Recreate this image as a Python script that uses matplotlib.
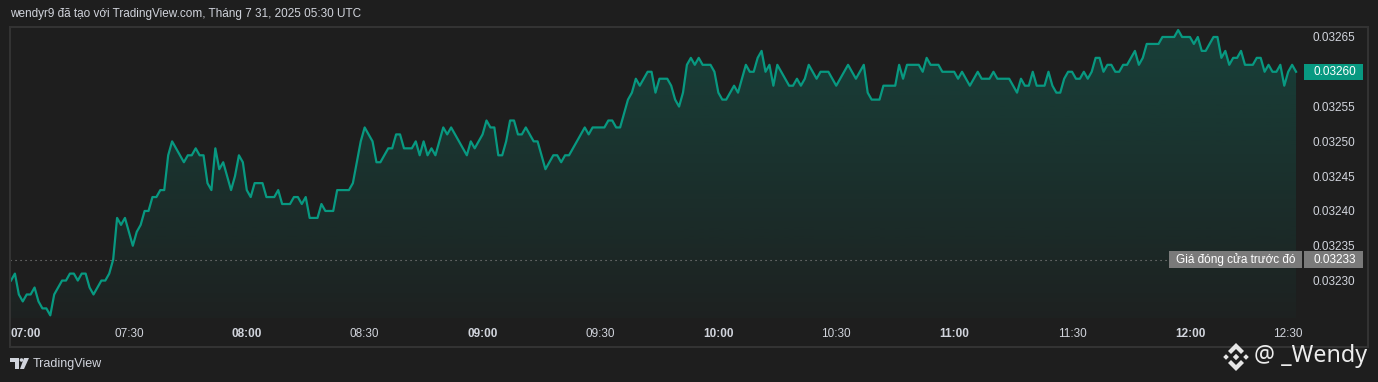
import matplotlib
matplotlib.use("Agg")
import matplotlib.pyplot as plt
import numpy as np
from matplotlib.patches import Rectangle, Polygon

W, H = 1378, 382
BG = "#1e1e1e"
GREEN = "#089981"
TEXT = "#d1d4dc"
FONT = ["Liberation Sans", "DejaVu Sans"]

# 1-minute closes, in units of 0.00001
close_0700 = [3230, 3231, 3228, 3227, 3228, 3228, 3229, 3227, 3226, 3226,
              3225, 3228, 3229, 3230, 3230, 3231, 3231, 3230, 3231, 3231,
              3229, 3228, 3229, 3230, 3230, 3231, 3233, 3239, 3238, 3239,
              3237, 3235, 3237, 3238, 3240, 3240, 3242, 3242, 3243, 3243,
              3248, 3250, 3249, 3248, 3247, 3248, 3248, 3249, 3248, 3248,
              3244, 3243, 3249, 3246, 3247, 3245, 3243, 3245, 3248, 3247,
              3243, 3242, 3244, 3244, 3244, 3242, 3242, 3242, 3243, 3241,
              3241, 3241, 3242, 3242, 3241, 3242, 3239, 3239, 3239, 3241,
              3240, 3240, 3240, 3243, 3243, 3243, 3243]
close_0827 = [3244, 3247, 3250, 3252, 3251, 3250, 3247, 3247, 3248, 3249,
              3249, 3251, 3251, 3249, 3249, 3249, 3250, 3248, 3250, 3248,
              3249, 3248, 3250, 3252, 3251, 3252, 3251, 3250, 3249, 3248,
              3250, 3249, 3250, 3251, 3253, 3252, 3252, 3248, 3248, 3250,
              3253, 3253, 3251, 3251, 3252, 3251, 3250, 3250, 3248, 3246,
              3247, 3248, 3248, 3247, 3248, 3248, 3249, 3250, 3251, 3252,
              3251, 3252, 3252, 3252, 3252, 3253, 3253, 3252, 3252, 3254,
              3256, 3257, 3259, 3258, 3259]
close_0942 = [3260, 3260, 3257, 3259, 3259, 3259, 3258, 3256, 3255, 3257,
              3261, 3262, 3261, 3262, 3261, 3261, 3261, 3260, 3257, 3256,
              3256, 3257, 3258, 3257, 3259, 3261, 3260, 3260, 3262, 3263,
              3260, 3261, 3258, 3261, 3260, 3259, 3258, 3258, 3259, 3258,
              3259, 3261, 3260, 3259, 3260, 3260, 3260, 3259, 3258, 3259,
              3260, 3261, 3260, 3259, 3260, 3261, 3257, 3256, 3256, 3256,
              3258, 3258, 3258, 3258, 3261, 3259, 3261, 3261, 3261, 3261]
close_1052 = [3260, 3262, 3261, 3261, 3261, 3260, 3260, 3260, 3260, 3259,
              3260, 3259, 3258, 3259, 3260, 3259, 3259, 3259, 3260, 3259,
              3259, 3259, 3259, 3258, 3257, 3259, 3258, 3258, 3260, 3258,
              3258, 3258, 3260, 3258, 3257, 3257, 3259, 3260, 3260, 3259,
              3259, 3260, 3259, 3260, 3262, 3262, 3260, 3261, 3261, 3260,
              3260, 3261, 3261, 3262, 3263, 3261, 3262, 3264, 3264, 3264,
              3264, 3265, 3265, 3265, 3265, 3266, 3265, 3265, 3265, 3264,
              3265, 3263, 3263, 3264, 3265, 3265, 3262, 3263, 3261, 3262,
              3262, 3263, 3261, 3261, 3261, 3262, 3262, 3260, 3261, 3260,
              3260, 3261, 3258, 3260, 3261, 3260]

price_ticks = [3230, 3235, 3240, 3245, 3250, 3255, 3260, 3265]
time_labels = ["07:00", "07:30", "08:00", "08:30", "09:00", "09:30",
               "10:00", "10:30", "11:00", "11:30", "12:00", "12:30"]
prev_close = 3233
SCALE = 1e-5

close = np.array(close_0700 + close_0827 + close_0942 + close_1052) * SCALE
bars = np.arange(len(close))
last = close[-1]

fig = plt.figure(figsize=(W / 100, H / 100), dpi=100, facecolor=BG)

# main price pane (pixel box 10..1299 x 28..318)
ax = fig.add_axes([10 / W, (H - 318) / H, 1289 / W, 290 / H])
ax.set_facecolor(BG)
ax.set_xlim(-0.25, 327.75)
ax.set_ylim(3224.62 * SCALE, 3266.29 * SCALE)
for s in ax.spines.values():
    s.set_visible(False)

# gradient area under the line
poly = ax.fill_between(bars, close, ax.get_ylim()[0], color="none", lw=0)
grad = np.zeros((256, 1, 4))
grad[:, 0, 0:3] = matplotlib.colors.to_rgb(GREEN)
grad[:, 0, 3] = np.linspace(0.28, 0.03, 256)
img = ax.imshow(grad, extent=[bars[0], bars[-1], ax.get_ylim()[0], close.max()],
                aspect="auto", origin="upper", zorder=1)
img.set_clip_path(poly.get_paths()[0], transform=ax.transData)
ax.plot(bars, close, color=GREEN, lw=1.6, zorder=3)

# previous close dotted line
ax.plot([-0.25, (1168 - 11) / 3.93], [prev_close * SCALE] * 2,
        color="#8a8a8a", lw=0.8, ls=(0, (1, 3.5)), zorder=2)

# right price scale
ax.yaxis.tick_right()
ax.set_yticks(np.array(price_ticks) * SCALE)
ax.set_yticklabels([f"{p * SCALE:.5f}" for p in price_ticks])
ax.tick_params(axis="y", length=0, pad=10, labelsize=8.5, labelcolor=TEXT)

# time axis
tick_pos = [min(30 * i, 325) for i in range(len(time_labels))]
ax.set_xticks(tick_pos)
ax.set_xticklabels(time_labels)
ax.tick_params(axis="x", length=0, pad=7, labelsize=8.5, labelcolor=TEXT)
for i, lab in enumerate(ax.get_xticklabels()):
    lab.set_family(FONT)
    if time_labels[i].endswith(":00"):
        lab.set_fontweight("bold")
xl = ax.get_xticklabels()
xl[0].set_horizontalalignment("left")
for lab in ax.get_yticklabels():
    lab.set_family(FONT)

# overlay in pixel coordinates for frame, badges and branding
deco = fig.add_axes([0, 0, 1, 1], zorder=5)
deco.set_xlim(0, W)
deco.set_ylim(H, 0)
deco.axis("off")
deco.patch.set_alpha(0)


def to_px(v):
    return H - ax.transData.transform((0, v))[1]


deco.add_patch(Rectangle((10, 27), 1358, 320, fill=False, ec="#333333", lw=1.5))

y_last = to_px(last)
deco.add_patch(Rectangle((1304, y_last - 8), 59, 16, fc=GREEN, ec="none"))
deco.text(1313, y_last, f"{last:.5f}", color="white", fontsize=8.5, family=FONT,
          va="center", ha="left")

y_prev = to_px(prev_close * SCALE)
deco.add_patch(Rectangle((1169, y_prev - 8.5), 133, 17, fc="#7a7a7a", ec="none"))
deco.add_patch(Rectangle((1304, y_prev - 8.5), 59, 17, fc="#7a7a7a", ec="none"))
deco.text(1235.5, y_prev, "Giá đóng cửa trước đó", color="white", fontsize=8.5,
          family=FONT, va="center", ha="center")
deco.text(1313, y_prev, f"{prev_close * SCALE:.5f}", color="white", fontsize=8.5,
          family=FONT, va="center", ha="left")

deco.text(10, 14, "wendyr9 đã tạo với TradingView.com, Tháng 7 31, 2025 05:30 UTC",
          color=TEXT, fontsize=8.5, family=FONT, va="center", ha="left")

# TradingView logo
deco.add_patch(Polygon([(10, 358), (19, 358), (19, 369), (15, 369), (15, 362), (10, 362)],
                       fc=TEXT, ec="none"))
deco.add_patch(plt.Circle((21.5, 360), 1.8, fc=TEXT, ec="none"))
deco.add_patch(Polygon([(24, 358), (29, 358), (24, 369), (20, 369)], fc=TEXT, ec="none"))
deco.text(33, 364, "TradingView", color=TEXT, fontsize=9, family=FONT,
          va="center", ha="left")

# watermark: diamond badge + handle
cx, cy = 1236, 357
ICON = "#e6e6e6"
for dx, s in [(0, 3.2), (-10, 2.8), (10, 2.8)]:
    deco.add_patch(Polygon([(cx + dx, cy - s), (cx + dx + s, cy),
                            (cx + dx, cy + s), (cx + dx - s, cy)], fc=ICON, ec="none"))
for sgn in (-1, 1):
    deco.add_patch(Polygon([(cx, cy + sgn * 14), (cx + 8, cy + sgn * 6),
                            (cx + 5, cy + sgn * 3), (cx, cy + sgn * 8),
                            (cx - 5, cy + sgn * 3), (cx - 8, cy + sgn * 6)],
                           fc=ICON, ec="none"))
deco.text(1254, 356, "@ _Wendy", color="#ececec", fontsize=16.8,
          family=["Noto Sans", "DejaVu Sans"], va="center", ha="left")

fig.savefig("out.png", dpi=100, facecolor=BG)
